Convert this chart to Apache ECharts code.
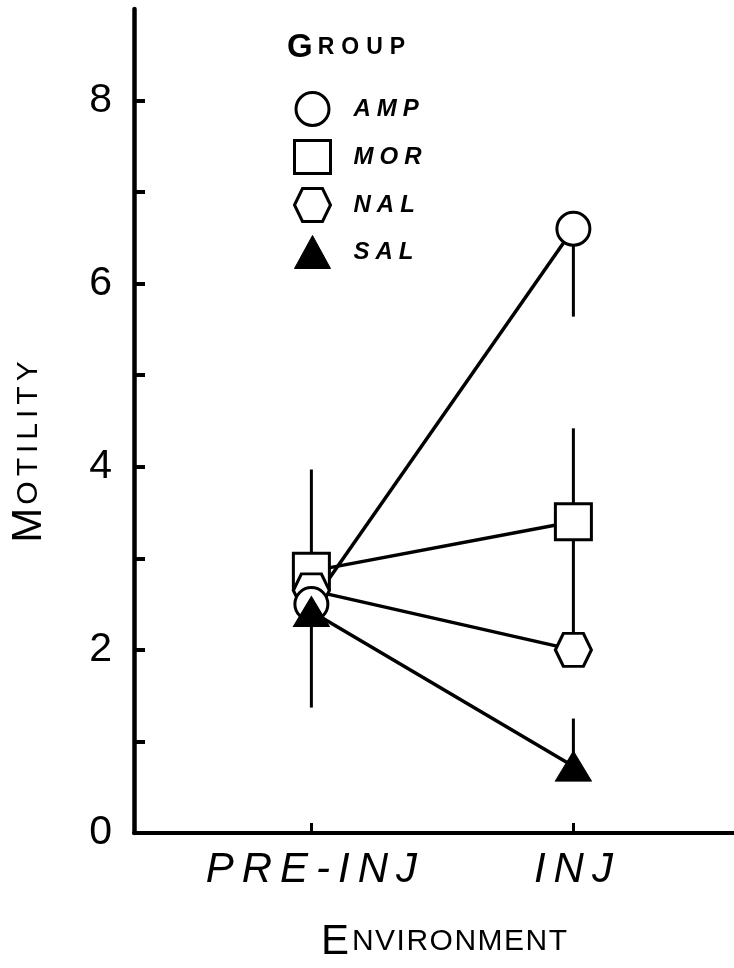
<!DOCTYPE html>
<html>
<head>
<meta charset="utf-8">
<script src="https://cdn.jsdelivr.net/npm/echarts@6/dist/echarts.min.js"></script>
<style>
  html, body { margin: 0; padding: 0; background: #fff; }
  #chart { width: 734px; height: 968px; }
</style>
</head>
<body>
<div id="chart"></div>
<script>
// Motility by group across the two environments
const envLabels = ['PRE-INJ', 'INJ'];
const envPositions = [1, 2];
const groups = ['AMP', 'MOR', 'NAL', 'SAL'];
const ampValues = [2.5, 6.6];
const morValues = [2.86, 3.4];
const nalValues = [2.65, 2.0];
const salValues = [2.42, 0.73];
const yTickValues = [1, 2, 3, 4, 5, 6, 7, 8];
const yLabelValues = [0, 2, 4, 6, 8];
// vertical variability bars: [environment position, low, high]
const errorBars = [
  [1, 1.37, 3.97],
  [2, 5.64, 6.6],
  [2, 3.4, 4.42],
  [2, 2.0, 3.4],
  [2, 0.73, 1.25]
];

const FONT = '"Liberation Sans", Arial, sans-serif';
const HEX = 'path://M0,16.5 L8,0 L28,0 L36,16.5 L28,33 L8,33 Z';

// spread letters apart with fixed-width gap segments
function spaced(text, style) {
  return text.split('').map(c => '{' + style + '|' + c + '}').join('{gap|\u00a0}');
}
function smallCaps(text) {
  return '{big|' + text[0] + '}' + '{sgap|\u00a0}' + spaced(text.slice(1), 'sm');
}

const chart = echarts.init(document.getElementById('chart'), null, { renderer: 'canvas' });

const markerStyle = { color: '#fff', borderColor: '#000', borderWidth: 3 };
const lineStyle = { color: '#000', width: 3.5 };

function lineSeries(name, values, symbol, size, filled) {
  return {
    name: name,
    type: 'line',
    data: values.map((v, i) => [envPositions[i], v]),
    symbol: symbol,
    symbolSize: size,
    showAllSymbol: true,
    lineStyle: lineStyle,
    itemStyle: filled ? { color: '#000', borderColor: '#000', borderWidth: 1 } : markerStyle,
    emphasis: { disabled: true },
    animation: false
  };
}

const smallCapsRich = {
  big: { fontFamily: FONT, fontSize: 42, color: '#000' },
  sm: { fontFamily: FONT, fontSize: 30, color: '#000' },
  gap: { width: 4, fontSize: 30 },
  sgap: { width: 3, fontSize: 30 }
};

const option = {
  backgroundColor: '#fff',
  animation: false,
  title: {
    text: smallCaps('GROUP'),
    left: 282,
    top: 26,
    textStyle: {
      rich: {
        big: { fontFamily: FONT, fontSize: 33, color: '#000' },
        sm: { fontFamily: FONT, fontSize: 23, color: '#000', fontWeight: 'bold' },
        gap: { width: 7, fontSize: 23 },
        sgap: { width: 5, fontSize: 23 }
      }
    }
  },
  legend: {
    orient: 'vertical',
    left: 288,
    top: 86,
    itemWidth: 36,
    itemHeight: 33,
    itemGap: 12,
    selectedMode: false,
    data: [
      { name: 'AMP', icon: 'circle', itemStyle: markerStyle },
      { name: 'MOR', icon: 'rect', itemStyle: markerStyle },
      { name: 'NAL', icon: HEX, itemStyle: markerStyle },
      { name: 'SAL', icon: 'triangle', itemStyle: { color: '#000', borderColor: '#000', borderWidth: 1 } }
    ],
    formatter: name => spaced(name, 't'),
    textStyle: {
      padding: [0, 0, 0, 18],
      rich: {
        t: { fontFamily: FONT, fontSize: 24, fontStyle: 'italic', fontWeight: 'bold', color: '#000' },
        gap: { width: 6, fontSize: 24 }
      }
    }
  },
  grid: { left: 125, right: 0, top: 9, bottom: 130 },
  xAxis: {
    type: 'value',
    min: 0.323,
    max: 2.613,
    splitLine: { show: false },
    axisLine: { show: true, lineStyle: { color: '#000', width: 4 } },
    axisTick: { show: true, inside: true, length: 10, customValues: envPositions, lineStyle: { color: '#000', width: 3 } },
    axisLabel: {
      customValues: envPositions,
      margin: 16,
      formatter: v => spaced(envLabels[envPositions.indexOf(v)], 't'),
      rich: {
        t: { fontFamily: FONT, fontSize: 42, fontStyle: 'italic', color: '#000' },
        gap: { width: 8, fontSize: 42 }
      }
    },
    name: smallCaps('ENVIRONMENT'),
    nameLocation: 'middle',
    nameGap: 88,
    nameTextStyle: { padding: [0, 0, 0, 20], rich: Object.assign({}, smallCapsRich, { gap: { width: 1.5, fontSize: 30 } }) }
  },
  yAxis: {
    type: 'value',
    min: 0,
    max: 9,
    interval: 1,
    splitLine: { show: false },
    axisLine: { show: true, lineStyle: { color: '#000', width: 4.5 } },
    axisTick: { show: true, inside: true, length: 11, customValues: yTickValues, lineStyle: { color: '#000', width: 4 } },
    axisLabel: {
      customValues: yLabelValues,
      margin: 22,
      fontFamily: FONT,
      fontSize: 41,
      color: '#000'
    },
    name: smallCaps('MOTILITY'),
    nameLocation: 'middle',
    nameRotate: 90,
    nameGap: 84,
    nameTextStyle: { padding: [0, 62, 0, 0], rich: Object.assign({}, smallCapsRich, { gap: { width: 5, fontSize: 30 } }) }
  },
  series: [
    {
      type: 'custom',
      name: 'bars',
      z: 1,
      silent: true,
      data: errorBars,
      renderItem: (params, api) => {
        const top = api.coord([api.value(0), api.value(2)]);
        const bottom = api.coord([api.value(0), api.value(1)]);
        return {
          type: 'line',
          shape: { x1: top[0], y1: top[1], x2: bottom[0], y2: bottom[1] },
          style: { stroke: '#000', lineWidth: 3 }
        };
      }
    },
    lineSeries('MOR', morValues, 'rect', 36, false),
    lineSeries('NAL', nalValues, HEX, [36, 33], false),
    lineSeries('AMP', ampValues, 'circle', 33, false),
    lineSeries('SAL', salValues, 'triangle', [36, 30], true)
  ]
};

chart.setOption(option);
</script>
</body>
</html>
